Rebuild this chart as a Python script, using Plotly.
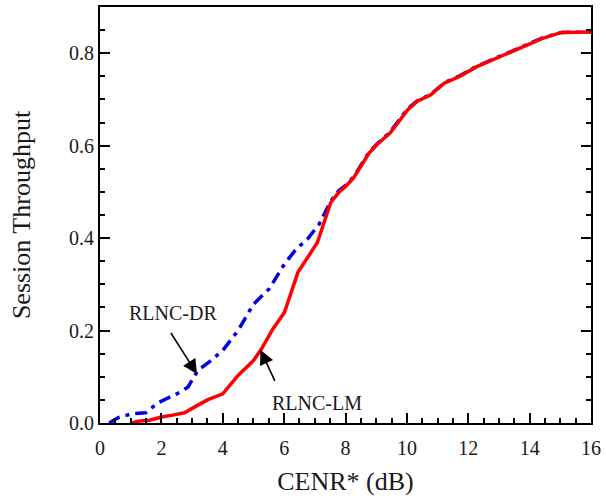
import plotly.graph_objects as go

# CENR* (dB) vs session throughput for the two schemes
dr_x = [0.3, 0.61, 1.05, 1.49, 1.87, 2.25, 2.62, 2.87, 3.19, 3.56, 4.0, 4.5, 5.0, 5.51,
        6.01, 6.39, 6.76, 7.14, 7.52, 7.77, 8.02, 8.27, 8.77, 9.02, 9.46, 9.77, 10.03,
        10.34, 10.78, 11.22, 11.72, 12.28, 13.04, 13.79, 14.42, 15.04, 16.0]
dr_y = [0.0, 0.012, 0.02, 0.022, 0.043, 0.056, 0.067, 0.078, 0.114, 0.132, 0.157, 0.2,
        0.257, 0.29, 0.344, 0.376, 0.398, 0.43, 0.48, 0.502, 0.515, 0.533, 0.586, 0.603,
        0.63, 0.658, 0.68, 0.697, 0.711, 0.736, 0.751, 0.772, 0.794, 0.814, 0.833, 0.845,
        0.846]

lm_x = [1.05, 1.24, 1.62, 2.0, 2.37, 2.75, 3.12, 3.5, 4.0, 4.5, 5.0, 5.26, 5.63, 6.01,
        6.45, 6.76, 7.08, 7.52, 7.77, 8.02, 8.27, 8.77, 9.02, 9.46, 9.77, 10.03, 10.34,
        10.78, 11.22, 11.72, 12.28, 13.04, 13.79, 14.42, 15.04, 16.0]
lm_y = [0.0, 0.004, 0.006, 0.013, 0.017, 0.022, 0.036, 0.05, 0.063, 0.103, 0.135, 0.16,
        0.203, 0.239, 0.326, 0.358, 0.39, 0.477, 0.498, 0.513, 0.531, 0.584, 0.602,
        0.628, 0.656, 0.678, 0.696, 0.71, 0.735, 0.75, 0.771, 0.793, 0.813, 0.832,
        0.845, 0.846]

x_ticks = [0, 2, 4, 6, 8, 10, 12, 14, 16]
y_ticks = [0.0, 0.2, 0.4, 0.6, 0.8]
y_tick_text = ["0.0", "0.2", "0.4", "0.6", "0.8"]

FONT = "Liberation Serif"
TEXT = "#1a1a1a"

fig = go.Figure()
fig.add_trace(go.Scatter(
    x=dr_x, y=dr_y, mode="lines", name="RLNC-DR",
    line=dict(color="#0000e6", width=3.5, dash="12px,6px,4px,6px"),
))
fig.add_trace(go.Scatter(
    x=lm_x, y=lm_y, mode="lines", name="RLNC-LM",
    line=dict(color="#ff0000", width=3.5),
))

# labels with arrows pointing at each curve
fig.add_annotation(x=3.16, y=0.106, ax=2.28, ay=0.198, xref="x", yref="y",
                   axref="x", ayref="y", showarrow=True, arrowhead=2,
                   arrowsize=1.8, arrowwidth=1.6, arrowcolor="black", text="")
fig.add_annotation(x=2.37, y=0.239, text="RLNC-DR", showarrow=False,
                   font=dict(family=FONT, size=20, color=TEXT))
fig.add_annotation(x=5.23, y=0.158, ax=5.72, ay=0.088, xref="x", yref="y",
                   axref="x", ayref="y", showarrow=True, arrowhead=2,
                   arrowsize=1.8, arrowwidth=1.6, arrowcolor="black", text="")
fig.add_annotation(x=7.08, y=0.043, text="RLNC-LM", showarrow=False,
                   font=dict(family=FONT, size=20, color=TEXT))

axis_common = dict(
    showgrid=False, zeroline=False, showline=True, linecolor="black", linewidth=2,
    ticks="inside", ticklen=10, tickwidth=2, tickcolor="black",
    tickfont=dict(family=FONT, size=20, color=TEXT),
)

fig.update_xaxes(
    **axis_common, range=[0, 16], tickvals=x_ticks, mirror=True,
    ticklabelstandoff=6,
    minor=dict(dtick=0.5, ticks="inside", ticklen=5, tickwidth=2, tickcolor="black"),
    title=dict(text="CENR* (dB)", font=dict(family=FONT, size=26, color=TEXT),
               standoff=14),
)
fig.update_yaxes(
    **axis_common, range=[0, 0.9], tickvals=y_ticks, ticktext=y_tick_text,
    mirror="ticks",
    minor=dict(dtick=0.05, ticks="inside", ticklen=5, tickwidth=2, tickcolor="black"),
    title=dict(text="Session Throughput", font=dict(family=FONT, size=26, color=TEXT),
               standoff=31),
)

fig.update_layout(
    width=606, height=502, showlegend=False,
    plot_bgcolor="white", paper_bgcolor="white",
    margin=dict(l=100, r=11, t=5, b=79),
)

fig.write_html("out.html")
